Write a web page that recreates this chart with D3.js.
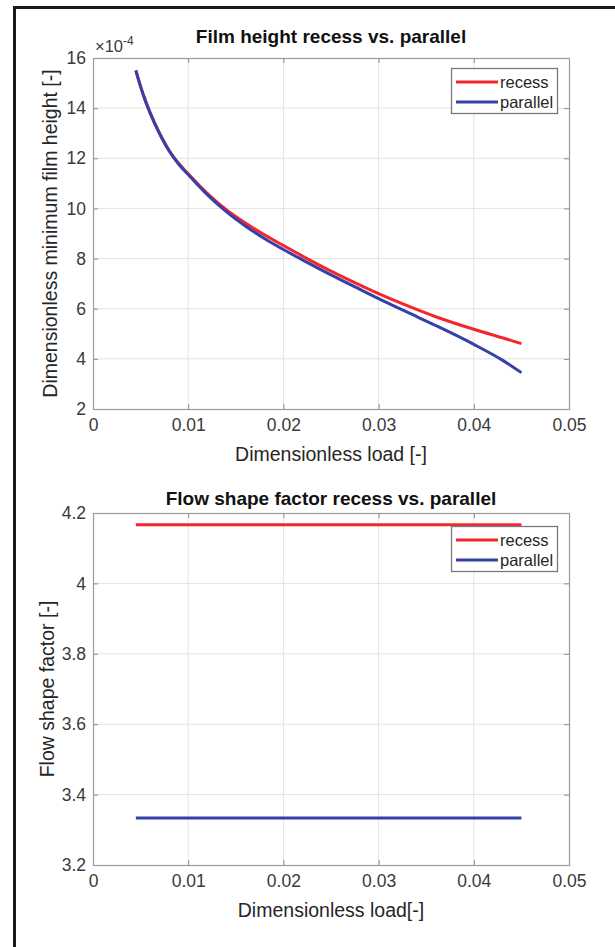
<!DOCTYPE html>
<html>
<head>
<meta charset="utf-8">
<script src="https://cdn.jsdelivr.net/npm/d3@7"></script>
<style>
  body { margin: 0; background: #fff; }
  svg { display: block; font-family: "Liberation Sans", Arial, sans-serif; }
</style>
</head>
<body>
<div id="chart"></div>
<script>
// data
const loadX = [0.0045, 0.005, 0.0055, 0.006, 0.007, 0.008, 0.009, 0.010, 0.012, 0.014, 0.016,
  0.018, 0.020, 0.022, 0.025, 0.028, 0.030, 0.033, 0.036, 0.040, 0.043, 0.045];
const recessH = [15.5, 14.86, 14.3, 13.81, 12.99, 12.31, 11.8, 11.38, 10.6, 9.95, 9.42,
  8.95, 8.52, 8.1, 7.5, 6.95, 6.6, 6.12, 5.68, 5.18, 4.84, 4.61];
const parallelH = [15.5, 14.86, 14.3, 13.81, 12.98, 12.29, 11.76, 11.35, 10.55, 9.87, 9.3,
  8.8, 8.36, 7.95, 7.35, 6.78, 6.4, 5.86, 5.33, 4.58, 3.95, 3.45];
const flowX = [0.0045, 0.045];
const recessFlow = [4.1667, 4.1667];
const parallelFlow = [3.3333, 3.3333];

const xTicks = [0, 0.01, 0.02, 0.03, 0.04, 0.05];
const yTicks1 = [2, 4, 6, 8, 10, 12, 14, 16];
const yTicks2 = [3.2, 3.4, 3.6, 3.8, 4, 4.2];
const seriesNames = ["recess", "parallel"];
const colors = ["#f4262c", "#3540a8"];

const width = 615, height = 947;
const svg = d3.select("#chart").append("svg")
  .attr("width", width)
  .attr("height", height);

// outer frame (top and left edges visible)
svg.append("path")
  .attr("d", `M14.5,${height} V7.5 H${width}`)
  .attr("fill", "none")
  .attr("stroke", "#1a1a1a")
  .attr("stroke-width", 3);

function drawPanel(opts) {
  const { top, bottom, left, right } = opts;
  const x = d3.scaleLinear().domain([0, 0.05]).range([left, right]);
  const y = d3.scaleLinear().domain(opts.yDomain).range([bottom, top]);
  const g = svg.append("g");

  // grid
  g.append("g").selectAll("line").data(xTicks.slice(1, -1)).join("line")
    .attr("x1", d => x(d)).attr("x2", d => x(d))
    .attr("y1", top).attr("y2", bottom)
    .attr("stroke", "#e3e3e3").attr("stroke-width", 1);
  g.append("g").selectAll("line").data(opts.yTicks.slice(1, -1)).join("line")
    .attr("x1", left).attr("x2", right)
    .attr("y1", d => y(d)).attr("y2", d => y(d))
    .attr("stroke", "#e3e3e3").attr("stroke-width", 1);

  // axes with inward ticks
  const tickColor = "#8c8c8c";
  const ax = (gen, tx) => {
    const a = g.append("g").attr("transform", tx).call(gen);
    a.attr("font-size", 17.5).attr("font-family", null);
    a.select(".domain").remove();
    a.selectAll(".tick line").attr("stroke", tickColor);
    a.selectAll("text").attr("fill", "#3a3a3a");
    return a;
  };
  ax(d3.axisBottom(x).tickValues(xTicks).tickSize(-5).tickPadding(10).tickFormat(d => d === 0 ? "0" : d3.format(".2f")(d)),
    `translate(0,${bottom})`);
  ax(d3.axisTop(x).tickValues(xTicks).tickSize(-5).tickFormat(""), `translate(0,${top})`);
  ax(d3.axisLeft(y).tickValues(opts.yTicks).tickSize(-5).tickPadding(7).tickFormat(opts.yFormat),
    `translate(${left},0)`);
  ax(d3.axisRight(y).tickValues(opts.yTicks).tickSize(-5).tickFormat(""), `translate(${right},0)`);

  g.append("rect")
    .attr("x", left + 0.5).attr("y", top + 0.5)
    .attr("width", right - left).attr("height", bottom - top)
    .attr("fill", "none").attr("stroke", "#9a9a9a").attr("stroke-width", 1.2);

  // series
  const line = d3.line().x(d => x(d[0])).y(d => y(d[1])).curve(d3.curveMonotoneX);
  opts.series.forEach((s, i) => {
    g.append("path")
      .datum(opts.xs.map((v, j) => [v, s[j]]))
      .attr("d", line)
      .attr("fill", "none")
      .attr("stroke", colors[i])
      .attr("stroke-width", 3);
  });

  // title
  g.append("text")
    .attr("x", (left + right) / 2).attr("y", opts.titleY)
    .attr("text-anchor", "middle")
    .attr("font-size", 19).attr("font-weight", "bold").attr("fill", "#111")
    .text(opts.title);

  // axis labels
  g.append("text")
    .attr("x", (left + right) / 2).attr("y", opts.xLabelY)
    .attr("text-anchor", "middle")
    .attr("font-size", 19.5).attr("fill", "#262626")
    .text(opts.xLabel);
  g.append("text")
    .attr("transform", `translate(${opts.yLabelX},${(top + bottom) / 2}) rotate(-90)`)
    .attr("text-anchor", "middle")
    .attr("font-size", 19.5).attr("fill", "#262626")
    .text(opts.yLabel);

  // legend
  const lg = g.append("g").attr("transform", `translate(${opts.legend[0]},${opts.legend[1]})`);
  lg.append("rect")
    .attr("x", 0.5).attr("y", 0.5)
    .attr("width", 106).attr("height", 45)
    .attr("fill", "#fff").attr("stroke", "#7a7a7a").attr("stroke-width", 1.3);
  seriesNames.forEach((n, i) => {
    const yy = 14 + i * 20;
    lg.append("line")
      .attr("x1", 5).attr("x2", 47).attr("y1", yy).attr("y2", yy)
      .attr("stroke", colors[i]).attr("stroke-width", 3);
    lg.append("text")
      .attr("x", 49).attr("y", yy + 5.5)
      .attr("font-size", 16.5).attr("fill", "#262626")
      .text(n);
  });
  return { x, y, g };
}

const p1 = drawPanel({
  top: 58, bottom: 409, left: 93, right: 569,
  yDomain: [2, 16], yTicks: yTicks1, yFormat: d3.format("d"),
  xs: loadX, series: [recessH, parallelH],
  title: "Film height recess vs. parallel", titleY: 43,
  xLabel: "Dimensionless load [-]", xLabelY: 461,
  yLabel: "Dimensionless minimum film height [-]", yLabelX: 57,
  legend: [451, 68]
});

// exponent note
const ex = p1.g.append("text").attr("x", 95).attr("y", 52).attr("font-size", 16.5).attr("fill", "#3a3a3a");
ex.append("tspan").text("×10");
ex.append("tspan").attr("dy", -7).attr("font-size", 12).text("-4");

drawPanel({
  top: 513, bottom: 865, left: 93, right: 569,
  yDomain: [3.2, 4.2], yTicks: yTicks2, yFormat: d => d === 4 ? "4" : d3.format(".1f")(d),
  xs: flowX, series: [recessFlow, parallelFlow],
  title: "Flow shape factor recess vs. parallel", titleY: 505,
  xLabel: "Dimensionless load[-]", xLabelY: 917,
  yLabel: "Flow shape factor [-]", yLabelX: 54,
  legend: [451, 526]
});
</script>
</body>
</html>
